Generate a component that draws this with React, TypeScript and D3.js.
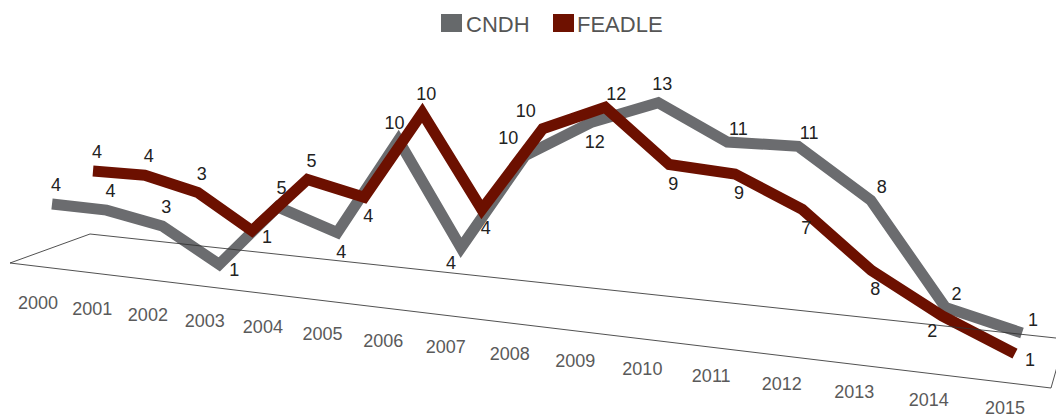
import React from 'react';
import * as d3 from 'd3';

// categories
const years = ['2000', '2001', '2002', '2003', '2004', '2005', '2006', '2007',
  '2008', '2009', '2010', '2011', '2012', '2013', '2014', '2015'];

// printed data labels
const cndhLabels = [4, 4, 3, 1, 5, 4, 10, 4, 10, 12, 13, 11, 11, 8, 2, 1];
const feadleLabels = [4, 4, 3, 1, 5, 4, 10, 4, 10, 12, 9, 9, 7, 8, 2, 1];

// heights of the drawn lines
const cndhValues = [4.0, 3.9, 3.2, 1.1, 5.0, 3.7, 9.8, 3.4, 9.5, 11.9, 13.5, 11.4, 11.5, 8.5, 2.2, 1.0];
const feadleValues = [4.0, 4.2, 3.6, 1.7, 5.4, 4.8, 10.6, 5.1, 10.7, 12.6, 9.6, 9.6, 8.0, 4.8, 2.6, 0.9];

const W = 1056;
const H = 419;
const FONT = '"Liberation Sans", Arial, sans-serif';

// --- fake 3D layout: every "row" runs from category 0 to the last one, with a bit of perspective
const persp = 0.2;
const warp = (u: number) => u / (1 + persp * (1 - u));
const tScale = d3.scaleLinear().domain([0, years.length - 1]).range([0, 1]);

type Row = { x: [number, number]; y: [number, number] };
const rows: Record<string, Row> = {
  CNDH: { x: [52, 1022], y: [268, 349] },
  FEADLE: { x: [93, 1015], y: [235, 368] },
  axis: { x: [38, 1005], y: [303, 408] },
};

const rowPoint = (row: Row) => {
  const sx = d3.scaleLinear().domain([0, 1]).range(row.x);
  const sy = d3.scaleLinear().domain([0, 1]).range(row.y);
  return (i: number): [number, number] => {
    const w = warp(tScale(i));
    return [sx(w), sy(w)];
  };
};

const hScale = d3.scaleLinear().domain([0, 1]).range([0, 16]);

// floor slab outline
const floor = {
  frontLeft: [10, 263],
  backLeft: [90, 234],
  backRight: [1065, 339],
  frontRight: [1051, 388],
};

const labelOffset: Record<string, [number, number]> = {
  t: [4, -19], u: [-4, -17], b: [4, 19], r: [15, 6], l: [-17, -18], q: [-10, 15], e: [11, -13],
};

const series = [
  { name: 'CNDH', values: cndhValues, labels: cndhLabels, sides: 'tttrtbuqlbteeeee', color: '#6b6c6f' },
  { name: 'FEADLE', values: feadleValues, labels: feadleLabels, sides: 'tttrtbtblebbbbqr', color: '#6c1000' },
];

const line = d3.line<[number, number]>().x(d => d[0]).y(d => d[1]);

export default function App() {
  const axisAt = rowPoint(rows.axis);

  const drawn = series.map(s => {
    const base = rowPoint(rows[s.name]);
    const pts = s.values.map((v, i) => {
      const [x, y] = base(i);
      return [x, y - hScale(v)] as [number, number];
    });
    return { ...s, pts };
  });

  const floorPath = d3.line()([
    floor.frontLeft, floor.backLeft, floor.backRight, floor.frontRight,
  ] as [number, number][]) + 'Z';

  return (
    <svg width={W} height={H} style={{ position: 'absolute', left: 0, top: 0, background: '#fff' }}
      fontFamily={FONT}>
      {/* legend */}
      <g>
        <rect x={441} y={14} width={21} height={18} fill="#66696b" />
        <text x={466} y={32} fontSize={22} fill="#555">CNDH</text>
        <rect x={553} y={14} width={21} height={18} fill="#6e1100" />
        <text x={577} y={32} fontSize={22} fill="#555">FEADLE</text>
      </g>

      {/* series */}
      {drawn.map(s => (
        <path key={s.name} d={line(s.pts) || ''} fill="none" stroke={s.color}
          strokeWidth={11} strokeLinejoin="miter" strokeMiterlimit={4} strokeLinecap="butt" />
      ))}

      {/* floor */}
      <path d={floorPath} fill="none" stroke="#333" strokeWidth={1} opacity={0.85} />

      {/* data labels */}
      {drawn.map(s => s.pts.map((p, i) => {
        const [dx, dy] = labelOffset[s.sides[i]];
        return (
          <text key={s.name + i} x={p[0] + dx} y={p[1] + dy} fontSize={18} fill="#222"
            textAnchor="middle" dominantBaseline="central">{s.labels[i]}</text>
        );
      }))}

      {/* category labels */}
      {years.map((yr, i) => {
        const [x, y] = axisAt(i);
        return (
          <text key={yr} x={x} y={y} fontSize={18} fill="#5a5a5a"
            textAnchor="middle" dominantBaseline="central">{yr}</text>
        );
      })}
    </svg>
  );
}
